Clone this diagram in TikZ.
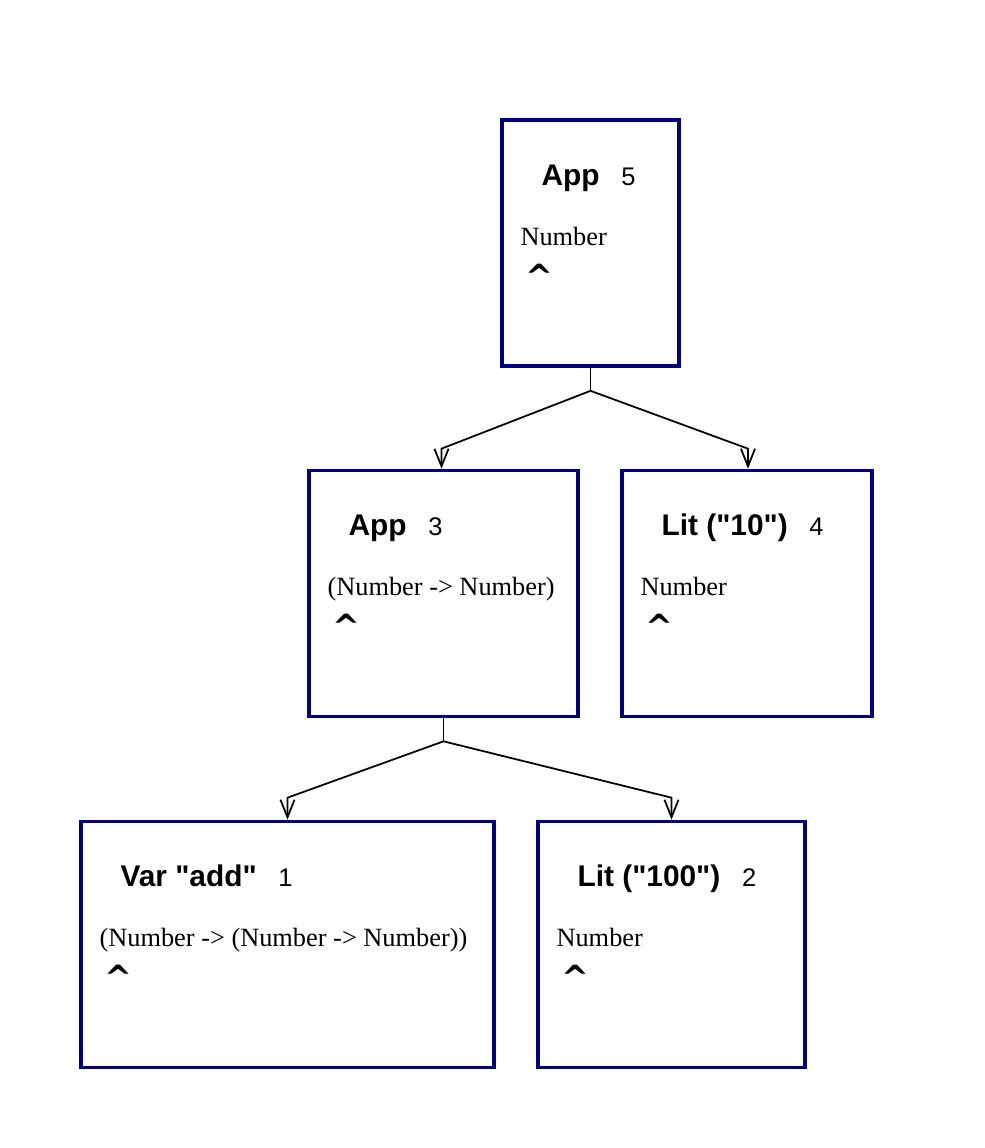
\documentclass[tikz,border=0pt]{standalone}
\usepackage{fontspec}
\setmainfont{Liberation Serif}
\setsansfont{Liberation Sans}
\newfontfamily\hatfont{DejaVu Sans}
\usetikzlibrary{arrows.meta,positioning,calc}
\definecolor{treeblue}{RGB}{0,0,128}

\begin{document}
\begin{tikzpicture}[x=0.02cm,y=-0.02cm,
    expr/.style={draw=treeblue,line width=2.1pt,minimum height=4.92cm,inner sep=0},
    ctor/.style={font=\sffamily\bfseries\fontsize{17}{20}\selectfont,inner sep=0,anchor=base west},
    idx/.style={font=\sffamily\fontsize{14.5}{17}\selectfont,inner sep=0,anchor=base west},
    ty/.style={font=\fontsize{15}{18}\selectfont,inner sep=0,anchor=base west},
    hat/.style={font=\hatfont\bfseries\fontsize{19}{22}\selectfont,inner sep=0,anchor=base west},
    link/.style={line width=1pt},
    child/.style={line width=1pt,-{Straight Barb[length=10pt,width=8pt]}}]
    \useasboundingbox (0,0) rectangle (984,1148);

    % expression boxes
    \node[expr,minimum width=3.54cm] (e5) at (590.5,243) {};
    \node[expr,minimum width=5.38cm] (e3) at (443.5,593.5) {};
    \node[expr,minimum width=5cm] (e4) at (747,593.5) {};
    \node[expr,minimum width=8.26cm] (e1) at (287.5,944.5) {};
    \node[expr,minimum width=5.34cm] (e2) at (671.5,944.5) {};

    % App 5
    \node[ctor] (c5) at ($(e5.north west)+(41,67)$) {App};
    \node[idx] (i5) at ($(c5.base east)+(21,0)$) {5};
    \node[ty] (t5) at ($(e5.north west)+(20,127)$) {Number};
    \node[hat] (h5) at ($(e5.north west)+(25,170)$) {\textasciicircum};

    % App 3
    \node[ctor] (c3) at ($(e3.north west)+(41,67)$) {App};
    \node[idx] (i3) at ($(c3.base east)+(21,0)$) {3};
    \node[ty] (t3) at ($(e3.north west)+(20,127)$) {(Number -> Number)};
    \node[hat] (h3) at ($(e3.north west)+(25,170)$) {\textasciicircum};

    % Lit 4
    \node[ctor] (c4) at ($(e4.north west)+(41,67)$) {Lit (\textquotedbl10\textquotedbl)};
    \node[idx] (i4) at ($(c4.base east)+(21,0)$) {4};
    \node[ty] (t4) at ($(e4.north west)+(20,127)$) {Number};
    \node[hat] (h4) at ($(e4.north west)+(25,170)$) {\textasciicircum};

    % Var 1
    \node[ctor] (c1) at ($(e1.north west)+(41,67)$) {Var \textquotedbl add\textquotedbl};
    \node[idx] (i1) at ($(c1.base east)+(21,0)$) {1};
    \node[ty] (t1) at ($(e1.north west)+(20,127)$) {(Number -> (Number -> Number))};
    \node[hat] (h1) at ($(e1.north west)+(25,170)$) {\textasciicircum};

    % Lit 2
    \node[ctor] (c2) at ($(e2.north west)+(41,67)$) {Lit (\textquotedbl100\textquotedbl)};
    \node[idx] (i2) at ($(c2.base east)+(21,0)$) {2};
    \node[ty] (t2) at ($(e2.north west)+(20,127)$) {Number};
    \node[hat] (h2) at ($(e2.north west)+(25,170)$) {\textasciicircum};

    % tree edges
    \coordinate (j5) at ($(e5.south)+(0,23)$);
    \draw[link] (e5.south) -- (j5);
    \draw[child] (j5) -- ($(e3.north)+(-2,-20)$) -- ([xshift=-0.04cm]e3.north);
    \draw[child] (j5) -- ($(e4.north)+(1,-20)$) -- ([xshift=0.02cm]e4.north);

    \coordinate (j3) at ($(e3.south)+(0,23)$);
    \draw[link] (e3.south) -- (j3);
    \draw[child] (j3) -- ($(e1.north)+(0,-22)$) -- (e1.north);
    \draw[child] (j3) -- ($(e2.north)+(0,-22)$) -- (e2.north);
\end{tikzpicture}
\end{document}
